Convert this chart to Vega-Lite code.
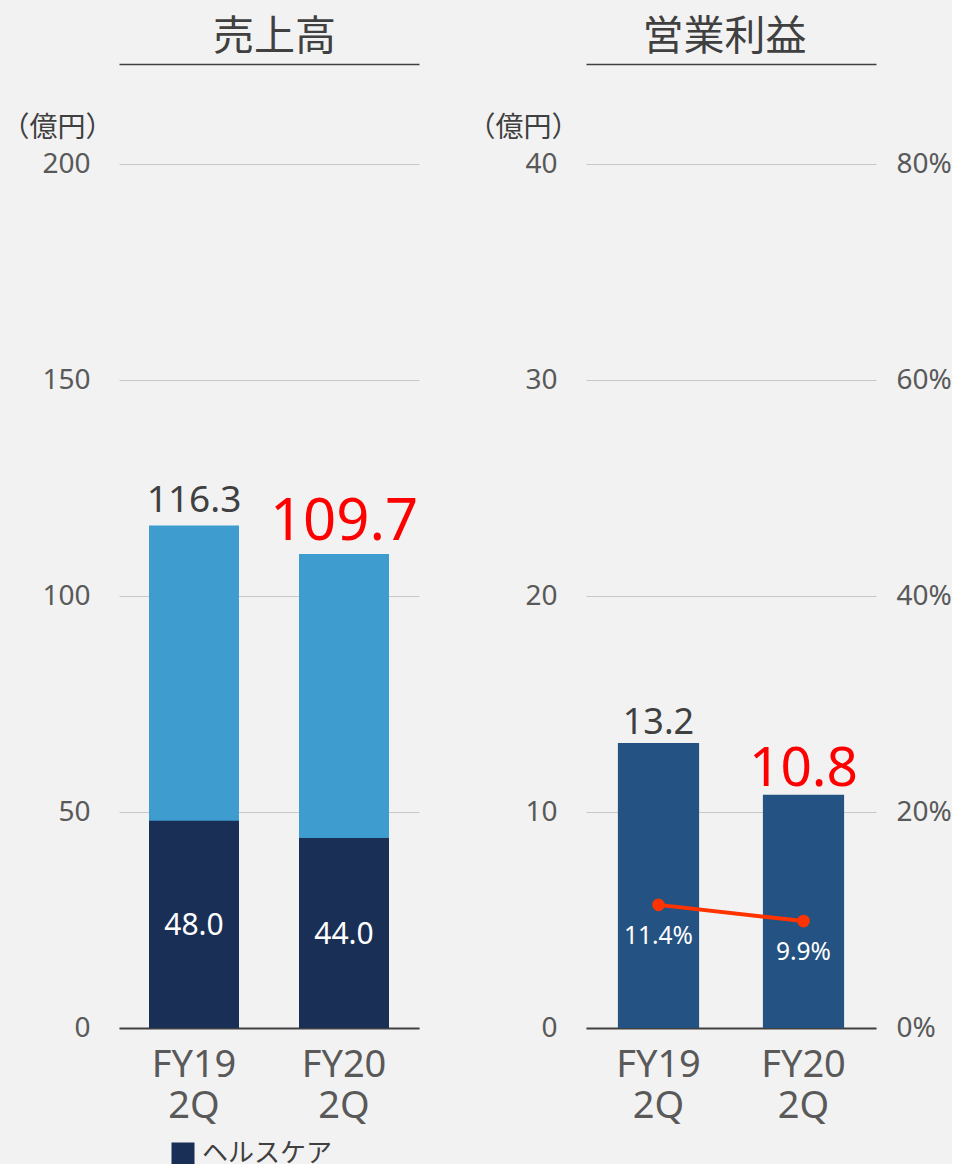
{
  "$schema": "https://vega.github.io/schema/vega-lite/v6.json",
  "background": "#f2f2f2",
  "padding": {"left": 0, "top": 16, "right": 0, "bottom": 0},
  "bounds": "flush",
  "spacing": 167,
  "resolve": {"legend": {"color": "independent"}},
  "config": {
    "view": {"stroke": null},
    "font": "Noto Sans",
    "axis": {"labelFont": "Noto Sans", "titleFont": "Noto Sans CJK JP", "titleFontWeight": "normal"},
    "text": {"font": "Noto Sans"}
  },
  "hconcat": [
    {
      "width": 300,
      "height": 864,
      "data": {"values": [
        {"period": "FY19 2Q", "total": 116.3, "healthcare": 48.0, "segment": "ヘルスケア"},
        {"period": "FY20 2Q", "total": 109.7, "healthcare": 44.0, "segment": "ヘルスケア"}
      ]},
      "resolve": {"scale": {"y": "independent"}, "axis": {"x": "independent"}},
      "layer": [
        {
          "resolve": {"axis": {"x": "independent"}},
          "layer": [
            {
              "mark": {"type": "bar", "color": "#3f9ccf"},
              "encoding": {
                "x": {"field": "period", "type": "nominal", "sort": null,
                  "scale": {"paddingInner": 0.4, "paddingOuter": 0.2},
                  "axis": {"orient": "bottom", "title": null, "labelExpr": "split(datum.value, ' ')",
                    "labelAngle": 0, "labelFontSize": 38, "labelColor": "#595959", "labelLineHeight": 41,
                    "labelPadding": 18, "ticks": false, "domain": true, "domainColor": "#404040", "domainWidth": 2, "grid": false}},
                "y": {"field": "total", "type": "quantitative", "scale": {"domain": [0, 200]},
                  "axis": {"values": [0, 50, 100, 150, 200], "grid": true, "gridColor": "#c8c8c8", "gridWidth": 1,
                    "domain": false, "ticks": false, "labelPadding": 29, "labelFontSize": 28, "labelColor": "#595959",
                    "title": "（億円）", "titleAngle": 0, "titleAlign": "right", "titleBaseline": "middle",
                    "titleX": -6, "titleY": -36, "titleFontSize": 28, "titleColor": "#404040"}}
              }
            },
            {
              "mark": {"type": "bar"},
              "encoding": {
                "x": {"field": "period", "type": "nominal", "sort": null, "axis": null},
                "y": {"field": "healthcare", "type": "quantitative"},
                "color": {"field": "segment", "type": "nominal", "scale": {"range": ["#1a2f55"]},
                  "legend": {"orient": "none", "legendX": 51, "legendY": 977, "title": null, "padding": 0,
                    "symbolType": "square", "symbolSize": 529, "symbolStrokeWidth": 0, "symbolOpacity": 1,
                    "labelFontSize": 26, "labelFont": "Noto Sans CJK JP", "labelColor": "#404040", "labelOffset": 6}}
              }
            },
            {
              "mark": {"type": "text", "baseline": "alphabetic", "dy": -14},
              "encoding": {
                "x": {"field": "period", "type": "nominal", "sort": null,
                  "axis": {"orient": "top", "offset": 100, "labels": false, "ticks": false, "grid": false,
                    "domain": true, "domainColor": "#404040", "domainWidth": 1.5,
                    "title": "売上高", "titleFontSize": 41, "titleColor": "#404040", "titleBaseline": "alphabetic",
                    "titlePadding": 15, "titleX": 155, "titleAlign": "center"}},
                "y": {"field": "total", "type": "quantitative"},
                "text": {"field": "total", "type": "quantitative", "format": ".1f"},
                "color": {"condition": {"test": "datum.period === 'FY20 2Q'", "value": "#ff0000"}, "value": "#404040"},
                "size": {"condition": {"test": "datum.period === 'FY20 2Q'", "value": 58}, "value": 37}
              }
            }
          ]
        },
        {
          "mark": {"type": "text", "baseline": "middle", "color": "#ffffff", "fontSize": 30, "dy": 2},
          "encoding": {
            "x": {"field": "period", "type": "nominal", "sort": null, "axis": null},
            "y": {"field": "healthcare", "type": "quantitative", "scale": {"domain": [0, 400]}, "axis": null},
            "text": {"field": "healthcare", "type": "quantitative", "format": ".1f"}
          }
        }
      ]
    },
    {
      "width": 290,
      "height": 864,
      "data": {"values": [
        {"period": "FY19 2Q", "profit": 13.2, "margin": 0.114},
        {"period": "FY20 2Q", "profit": 10.8, "margin": 0.099}
      ]},
      "resolve": {"scale": {"y": "independent"}, "axis": {"x": "independent"}},
      "layer": [
        {
          "resolve": {"axis": {"x": "independent"}},
          "layer": [
            {
              "mark": {"type": "bar", "color": "#245282"},
              "encoding": {
                "x": {"field": "period", "type": "nominal", "sort": null,
                  "scale": {"paddingInner": 0.44, "paddingOuter": 0.22},
                  "axis": {"orient": "bottom", "title": null, "labelExpr": "split(datum.value, ' ')",
                    "labelAngle": 0, "labelFontSize": 38, "labelColor": "#595959", "labelLineHeight": 41,
                    "labelPadding": 18, "ticks": false, "domain": true, "domainColor": "#404040", "domainWidth": 2, "grid": false}},
                "y": {"field": "profit", "type": "quantitative", "scale": {"domain": [0, 40]},
                  "axis": {"values": [0, 10, 20, 30, 40], "grid": true, "gridColor": "#c8c8c8", "gridWidth": 1,
                    "domain": false, "ticks": false, "labelPadding": 29, "labelFontSize": 28, "labelColor": "#595959",
                    "title": "（億円）", "titleAngle": 0, "titleAlign": "right", "titleBaseline": "middle",
                    "titleX": -7, "titleY": -36, "titleFontSize": 28, "titleColor": "#404040"}}
              }
            },
            {
              "mark": {"type": "text", "baseline": "alphabetic", "dy": -9},
              "encoding": {
                "x": {"field": "period", "type": "nominal", "sort": null,
                  "axis": {"orient": "top", "offset": 100, "labels": false, "ticks": false, "grid": false,
                    "domain": true, "domainColor": "#404040", "domainWidth": 1.5,
                    "title": "営業利益", "titleFontSize": 41, "titleColor": "#404040", "titleBaseline": "alphabetic",
                    "titlePadding": 15, "titleX": 138, "titleAlign": "center"}},
                "y": {"field": "profit", "type": "quantitative"},
                "text": {"field": "profit", "type": "quantitative", "format": ".1f"},
                "color": {"condition": {"test": "datum.period === 'FY20 2Q'", "value": "#ff0000"}, "value": "#404040"},
                "size": {"condition": {"test": "datum.period === 'FY20 2Q'", "value": 55}, "value": 36}
              }
            }
          ]
        },
        {
          "layer": [
            {
              "mark": {"type": "line", "color": "#ff3300", "strokeWidth": 4},
              "encoding": {
                "x": {"field": "period", "type": "nominal", "sort": null, "axis": null},
                "y": {"field": "margin", "type": "quantitative", "scale": {"domain": [0, 0.8]},
                  "axis": {"orient": "right", "values": [0, 0.2, 0.4, 0.6, 0.8], "format": ".0%", "grid": false,
                    "domain": false, "ticks": false, "labelPadding": 20, "labelFontSize": 28, "labelColor": "#595959", "title": null}}
              }
            },
            {
              "mark": {"type": "point", "filled": true, "opacity": 1, "color": "#ff3300", "size": 160},
              "encoding": {
                "x": {"field": "period", "type": "nominal", "sort": null, "axis": null},
                "y": {"field": "margin", "type": "quantitative"}
              }
            },
            {
              "mark": {"type": "text", "baseline": "alphabetic", "dy": 39, "color": "#ffffff", "fontSize": 24.5},
              "encoding": {
                "x": {"field": "period", "type": "nominal", "sort": null, "axis": null},
                "y": {"field": "margin", "type": "quantitative"},
                "text": {"field": "margin", "type": "quantitative", "format": ".1%"}
              }
            }
          ]
        }
      ]
    }
  ]
}
